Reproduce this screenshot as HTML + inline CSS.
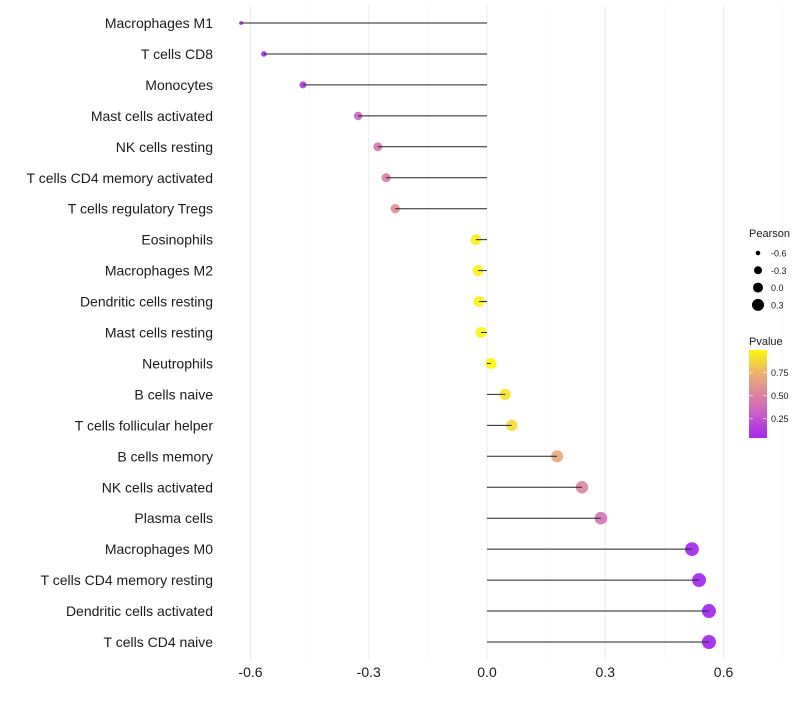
<!DOCTYPE html>
<html><head><meta charset="utf-8"><style>
body{margin:0;background:#fff;font-family:"Liberation Sans",sans-serif}
svg text{font-family:"Liberation Sans",sans-serif}
</style></head><body>
<svg id="chart" width="800" height="700"></svg>
<script>
const categories=["Macrophages M1","T cells CD8","Monocytes","Mast cells activated","NK cells resting","T cells CD4 memory activated","T cells regulatory  Tregs","Eosinophils","Macrophages M2","Dendritic cells resting","Mast cells resting","Neutrophils","B cells naive","T cells follicular helper","B cells memory","NK cells activated","Plasma cells","Macrophages M0","T cells CD4 memory resting","Dendritic cells activated","T cells CD4 naive"];
const pearson=[-0.624,-0.566,-0.467,-0.327,-0.277,-0.256,-0.233,-0.028,-0.023,-0.02,-0.015,0.01,0.046,0.063,0.178,0.241,0.289,0.52,0.538,0.563,0.563];
const pvalues=[0.01,0.02,0.12,0.33,0.42,0.47,0.55,0.95,0.95,0.95,0.96,0.98,0.9,0.87,0.68,0.5,0.4,0.03,0.02,0.01,0.01];
const xTicks=[-0.6,-0.3,0.0,0.3,0.6];
const xTickLabels=["-0.6","-0.3","0.0","0.3","0.6"];
const sizeLegend=[-0.6,-0.3,0.0,0.3];
const pLegendTicks=[0.75,0.5,0.25];

const NS="http://www.w3.org/2000/svg";
const svg=document.getElementById("chart");
function el(tag,attrs,parent){const e=document.createElementNS(NS,tag);for(const k in attrs)e.setAttribute(k,attrs[k]);(parent||svg).appendChild(e);return e;}
const x=v=>487+v*394.2;
const y=i=>23+i*30.95;
const rad=v=>1.5+5.5*Math.sqrt(Math.max(0,(v+0.63)/1.19));
function lerp(a,b,t){return a+(b-a)*t}
function col(p){
  const stops=[[0,[160,32,240]],[0.33,[205,100,195]],[0.55,[225,140,150]],[0.7,[235,170,120]],[1,[255,255,0]]];
  p=Math.max(0,Math.min(1,p));
  for(let k=0;k<stops.length-1;k++){const[a,ca]=stops[k],[b,cb]=stops[k+1];
    if(p<=b){const t=(p-a)/(b-a);return`rgb(${ca.map((c,j)=>Math.round(lerp(c,cb[j],t))).join(",")})`;}}
}
for(let g=-0.75;g<=0.76;g+=0.15){
  const gx=x(g);if(gx<225||gx>790)continue;
  const isMajor=Math.abs(Math.round(g/0.3)*0.3-g)<1e-6;
  const l=el("line",{x1:gx,x2:gx,y1:5,y2:660,stroke:isMajor?"#ebebeb":"#f3f3f3","stroke-width":isMajor?1:0.6});
  
  
}
xTicks.forEach((t,i)=>{
  const tx=el("text",{x:x(t),y:677,"text-anchor":"middle","font-size":14,fill:"#1a1a1a"});
  tx.textContent=xTickLabels[i];
  
  
});
categories.forEach((c,i)=>{
  const t=el("text",{x:213,y:y(i)+5,"text-anchor":"end","font-size":14,fill:"#1a1a1a"});
  t.textContent=c;
  
  
  const pt=el("circle",{cx:x(pearson[i]),cy:y(i),r:rad(pearson[i]),fill:col(pvalues[i]),"fill-opacity":0.9});
  
  
  const ln=el("line",{x1:x(0),x2:x(pearson[i]),y1:y(i),y2:y(i),stroke:"#222","stroke-width":1});
  
  
});
const lt=el("text",{x:749,y:237,"font-size":11,fill:"#1a1a1a"});lt.textContent="Pearson";


sizeLegend.forEach((v,i)=>{
  const cy=253+i*17.3;
  const c=el("circle",{cx:758,cy:cy,r:[2.3,4,5,6][i],fill:"#000"});
  
  
  const t=el("text",{x:771,y:cy+3.5,"font-size":9,fill:"#1a1a1a"});t.textContent=v.toFixed(1);
  
  
});
const pt2=el("text",{x:749,y:345,"font-size":11,fill:"#1a1a1a"});pt2.textContent="Pvalue";


const defs=el("defs",{});
const grad=el("linearGradient",{id:"pg",x1:0,y1:1,x2:0,y2:0},defs);
for(let s=0;s<=10;s++){const p=0.04+s*0.093;el("stop",{offset:s/10,"stop-color":col(p)},grad);}
const bar=el("rect",{x:749,y:350,width:18,height:88,fill:"url(#pg)"});


pLegendTicks.forEach(p=>{
  const ty=438-(p-0.04)/0.25*23;
  el("line",{x1:749,x2:753,y1:ty,y2:ty,stroke:"#fff","stroke-opacity":0.6});
  el("line",{x1:763,x2:767,y1:ty,y2:ty,stroke:"#fff","stroke-opacity":0.6});
  const t=el("text",{x:771,y:ty+3.5,"font-size":9,fill:"#1a1a1a"});t.textContent=p.toFixed(2);
  
  
});
</script>
</body></html>
